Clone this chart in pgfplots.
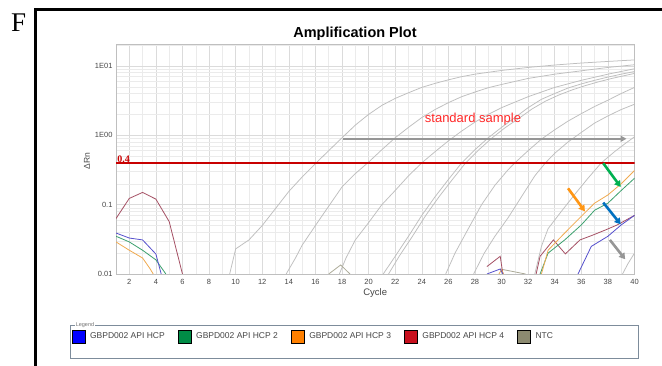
\documentclass[border=0pt]{standalone}
\usepackage{fontspec}
\setmainfont{Liberation Sans}
\newfontfamily\seriffont{Liberation Serif}
\usepackage{pgfplots}
\pgfplotsset{compat=1.18}
\usetikzlibrary{arrows.meta}

\definecolor{stdgray}{RGB}{190,190,190}
\definecolor{ntcgray}{RGB}{172,170,152}
\definecolor{hcpblue}{RGB}{85,80,205}
\definecolor{hcpgreen}{RGB}{60,160,110}
\definecolor{hcporange}{RGB}{240,170,80}
\definecolor{hcpred}{RGB}{165,80,100}
\definecolor{legblue}{RGB}{0,0,255}
\definecolor{leggreen}{RGB}{0,140,70}
\definecolor{legorange}{RGB}{255,128,0}
\definecolor{legred}{RGB}{200,16,30}
\definecolor{legntc}{RGB}{140,138,112}
\definecolor{thrred}{RGB}{200,0,0}
\definecolor{stdred}{RGB}{255,40,40}
\definecolor{arrgreen}{RGB}{0,176,80}
\definecolor{arrorange}{RGB}{255,150,20}
\definecolor{arrblue}{RGB}{0,112,192}
\definecolor{arrgray}{RGB}{150,150,150}
\definecolor{boxgray}{RGB}{125,140,155}
\definecolor{ticktext}{RGB}{70,70,70}

\pgfplotsset{
  sqlegend/.style={legend image code/.code={\fill[##1] (0pt,-6.5pt) rectangle (13pt,6.5pt);}},
  std/.style={draw=stdgray, line width=0.75pt, forget plot},
  sample/.style={draw=#1, line width=0.8pt, forget plot},
}

\begin{document}
\begin{tikzpicture}[x=1pt,y=1pt]
\useasboundingbox (0pt,0pt) rectangle (662pt,366pt);
\fill[white] (0pt,0pt) rectangle (662pt,366pt);

% panel frame and panel letter
\draw[line width=3pt] (35pt,0pt) -- (35pt,356.5pt) -- (662pt,356.5pt);
\node[font=\seriffont\fontsize{27}{27}\selectfont, anchor=base west, inner sep=0pt] at (11pt,334pt) {F};

% title
\node[font=\bfseries\fontsize{14.5}{15}\selectfont, anchor=base, inner sep=0pt] at (355pt,328pt) {Amplification Plot};

\begin{axis}[
  at={(116pt,92pt)}, anchor=south west,
  width=518.5pt, height=230pt, scale only axis,
  xmin=1, xmax=40, ymode=log, ymin=0.01, ymax=20.7,
  xtick={2,4,...,40}, minor xtick={1,3,...,39},
  ytick={0.01,0.1,1,10}, yticklabels={0.01,0.1,1E00,1E01},
  minor ytick={0.02,0.03,0.04,0.05,0.06,0.07,0.08,0.09,0.2,0.3,0.4,0.5,0.6,0.7,0.8,0.9,2,3,4,5,6,7,8,9,20},
  grid=both,
  major grid style={draw=black!14, line width=0.5pt},
  minor grid style={draw=black!8, line width=0.5pt},
  axis line style={draw=black!25},
  major tick length=0pt, minor tick length=0pt,
  /pgf/number format/assume math mode=true,
  tick label style={font=\fontsize{7.5}{8}\selectfont, text=ticktext},
  xticklabel style={yshift=-1.5pt},
  xlabel={Cycle}, ylabel={ΔRn},
  xlabel style={at={(axis description cs:0.5,-0.083)}, anchor=center, font=\fontsize{9.5}{10}\selectfont, text=ticktext},
  ylabel style={at={(axis description cs:-0.056,0.49)}, anchor=center, font=\fontsize{8.5}{9}\selectfont, text=ticktext},
  unbounded coords=jump,
  clip=true,
  legend columns=5,
  legend style={at={(axis description cs:-0.0858,-0.2717)}, anchor=west, draw=none, fill=none,
    inner sep=0pt, font=\fontsize{8.5}{9}\selectfont, text=ticktext,
    /tikz/every odd column/.append style={column sep=3pt},
    /tikz/every even column/.append style={column sep=11pt}},
]

% standard sample dilution series
\addplot[std] coordinates {(9.55,0.01) (10,0.023) (11,0.031) (12,0.05) (13,0.088) (14,0.155) (15,0.25) (16,0.39) (17,0.6) (18,0.92) (19,1.4) (20,2.0) (21,2.7) (22,3.4) (23,4.1) (24,4.9) (25,5.6) (26,6.3) (27,7.0) (28,7.6) (30,8.6) (32,9.5) (34,10.3) (36,11.0) (38,11.6) (40,12.2)};
\addplot[std] coordinates {(13.8,0.01) (14.5,0.017) (15,0.026) (16,0.05) (17,0.095) (18,0.18) (19,0.28) (20,0.41) (21,0.62) (22,0.92) (23,1.3) (24,1.8) (25,2.35) (26,2.95) (27,3.6) (28,4.2) (29,4.85) (30,5.4) (32,6.6) (34,7.6) (36,8.5) (38,9.5) (40,10.4)};
\addplot[std] coordinates {(17.8,0.01) (18.3,0.017) (19,0.031) (20,0.055) (21,0.1) (22,0.16) (23,0.26) (24,0.4) (25,0.58) (26,0.83) (27,1.15) (28,1.55) (29,2.0) (30,2.5) (31,3.0) (32,3.6) (34,4.9) (36,6.2) (38,7.6) (40,9.1)};
\addplot[std] coordinates {(21.1,0.01) (22,0.018) (23,0.035) (24,0.07) (25,0.13) (26,0.23) (27,0.4) (28,0.62) (29,0.92) (30,1.3) (31,1.8) (32,2.5) (33,3.3) (34,4.0) (35,4.8) (36,5.5) (37,6.2) (38,6.9) (39,7.6) (40,8.3)};
\addplot[std] coordinates {(21.5,0.01) (22.3,0.018) (23.3,0.035) (24.3,0.07) (25.3,0.13) (26.3,0.23) (27.3,0.4) (28.3,0.62) (29.3,0.92) (30.3,1.3) (31.3,1.75) (32.3,2.4) (33.3,3.1) (34.3,3.8) (35.3,4.5) (36.3,5.2) (37.3,5.9) (38.3,6.6) (40,7.8)};
\addplot[std] coordinates {(25.8,0.01) (26.5,0.02) (27.5,0.045) (28.5,0.1) (29.5,0.19) (30.5,0.32) (31,0.4) (32,0.6) (33,0.88) (34,1.2) (35,1.6) (36,2.05) (37,2.6) (38,3.2) (39,4.0) (40,4.9)};
\addplot[std] coordinates {(27.9,0.01) (28.7,0.02) (29.5,0.035) (30.5,0.065) (31.5,0.13) (32.5,0.26) (33.3,0.4) (34,0.55) (35,0.8) (36,1.1) (37,1.5) (38,1.9) (39,2.35) (40,2.8)};
\addplot[std] coordinates {(32.5,0.01) (33,0.025) (33.5,0.045) (34.5,0.08) (35.5,0.14) (36.5,0.24) (37.5,0.4) (38.5,0.58) (39.3,0.76) (40,0.95)};
\addplot[std] coordinates {(39.1,0.01) (39.5,0.014) (40,0.02)};

% no template control
\addplot[sample=ntcgray] coordinates {(17,0.01) (17.9,0.0135) (18.6,0.01) (nan,nan) (29.9,0.0118) (31.8,0.01)};

% threshold
\addplot[draw=thrred, line width=1.8pt, forget plot] coordinates {(1,0.4) (40,0.4)};

% samples
\addplot[sample=hcpred] coordinates {(1,0.063) (2,0.123) (3,0.15) (4,0.12) (5,0.057) (6,0.01) (nan,nan) (28.9,0.0128) (29.9,0.018) (30.1,0.01) (nan,nan) (32.6,0.01) (32.9,0.018) (33.9,0.031) (34.8,0.0195) (35.9,0.031) (36.8,0.036) (37.8,0.043) (38.7,0.051) (40,0.07)};
\addplot[sample=hcpgreen] coordinates {(1,0.035) (2,0.029) (3,0.022) (4,0.016) (4.75,0.01) (nan,nan) (32.9,0.01) (33.5,0.02) (34.75,0.031) (36,0.051) (37,0.083) (38,0.105) (39,0.16) (40,0.24)};
\addplot[sample=hcporange] coordinates {(1,0.029) (2,0.022) (3,0.017) (3.55,0.012) (3.8,0.01) (nan,nan) (29.8,0.01) (30,0.0115) (30.15,0.01) (nan,nan) (33,0.01) (33.5,0.022) (34.75,0.039) (36,0.068) (37,0.105) (38,0.138) (39,0.2) (40,0.31)};
\addplot[sample=hcpblue] coordinates {(1,0.039) (2,0.033) (3,0.031) (4,0.0194) (4.4,0.01) (nan,nan) (28.9,0.01) (29.9,0.0118) (30.1,0.01) (nan,nan) (35.75,0.01) (36.75,0.025) (38,0.035) (39,0.051) (40,0.07)};

% legend
\addlegendimage{sqlegend, fill=legblue}
\addlegendentry{GBPD002 API HCP}
\addlegendimage{sqlegend, fill=leggreen}
\addlegendentry{GBPD002 API HCP 2}
\addlegendimage{sqlegend, fill=legorange}
\addlegendentry{GBPD002 API HCP 3}
\addlegendimage{sqlegend, fill=legred}
\addlegendentry{GBPD002 API HCP 4}
\addlegendimage{sqlegend, fill=legntc}
\addlegendentry{NTC}

% annotations
\node[anchor=south west, inner sep=0.5pt, text=thrred, font=\seriffont\bfseries\fontsize{10}{10}\selectfont] at (axis cs:1.05,0.4) {0.4};
\node[text=stdred, font=\fontsize{13}{13}\selectfont] at (axis cs:27.85,1.73) {standard sample};
\draw[arrgray, line width=1.8pt, -{Triangle[length=6pt,width=6pt]}] (axis cs:18.05,0.89) -- (axis cs:39.4,0.89);
\draw[arrgreen, line width=2.6pt, -{Triangle[length=6pt,width=7pt]}] (axis cs:37.65,0.395) -- (axis cs:38.96,0.18);
\draw[arrorange, line width=2.6pt, -{Triangle[length=6pt,width=7pt]}] (axis cs:35.0,0.172) -- (axis cs:36.27,0.08);
\draw[arrblue, line width=2.6pt, -{Triangle[length=6pt,width=7pt]}] (axis cs:37.65,0.107) -- (axis cs:38.96,0.052);
\draw[arrgray, line width=2.6pt, -{Triangle[length=6pt,width=7pt]}] (axis cs:38.15,0.031) -- (axis cs:39.3,0.0163);
\end{axis}

% legend frame
\draw[boxgray, line width=0.8pt] (70pt,8pt) rectangle (638pt,41pt);
\node[fill=white, inner sep=0.8pt, text=black!55, font=\fontsize{5.5}{6}\selectfont] at (85pt,41pt) {Legend};
\end{tikzpicture}
\end{document}
